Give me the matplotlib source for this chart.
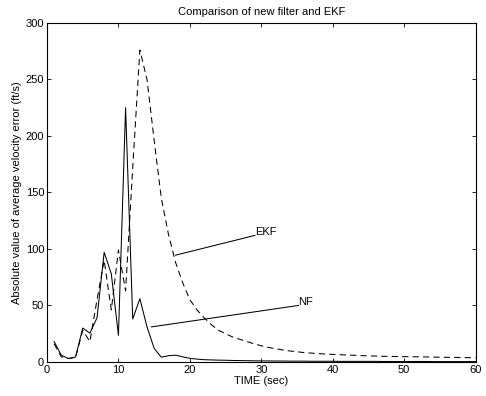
import matplotlib
matplotlib.use("Agg")
import matplotlib.pyplot as plt

plt.rcParams['font.family'] = ['Liberation Sans', 'DejaVu Sans']

# time axis (sec)
t = list(range(1, 61))

# new filter (NF) - solid
nf = [18, 6, 3, 4.4, 30, 25.5, 39, 97, 78, 23.6,
      225, 38, 56, 31, 12, 4.2, 5.5, 6, 4.5, 3.2,
      2.5, 2, 1.8, 1.6, 1.5, 1.3, 1.2, 1.1, 1.0, 0.9,
      0.9, 0.8, 0.8, 0.7, 0.7, 0.7, 0.6, 0.6, 0.6, 0.6,
      0.5, 0.5, 0.5, 0.5, 0.5, 0.5, 0.4, 0.4, 0.4, 0.4,
      0.4, 0.4, 0.4, 0.3, 0.3, 0.3, 0.3, 0.3, 0.3, 0.3]

# EKF - dashed
ekf = [16, 4.5, 3, 4, 28, 18, 55, 90, 46, 99,
       63, 172, 276, 250, 196, 145, 113, 88, 70, 55,
       46, 39, 33, 28, 25, 22, 20, 18, 16, 14.3,
       12.8, 11.7, 10.6, 9.7, 9, 8.3, 7.8, 7.4, 7, 6.7,
       6.4, 6.1, 5.9, 5.6, 5.4, 5.2, 5.0, 4.9, 4.8, 4.7,
       4.6, 4.5, 4.4, 4.3, 4.2, 4.1, 4.0, 3.9, 3.8, 3.7]

fs = 8

fig = plt.figure(figsize=(4.86, 3.96), dpi=100)
ax = fig.add_axes([0.0967, 0.086, 0.882, 0.856])

ax.plot(t, nf, color='black', linewidth=0.75, linestyle='-')
ax.plot(t, ekf, color='black', linewidth=0.75, linestyle=(0, (6, 4)))

ax.set_xlim(0, 60)
ax.set_ylim(0, 300)
ax.set_xticks(range(0, 61, 10))
ax.set_yticks(range(0, 301, 50))
ax.tick_params(direction='in', top=True, right=True, labelsize=fs,
               length=3, width=0.6, pad=2)
for s in ax.spines.values():
    s.set_linewidth(0.8)

ax.set_title('Comparison of new filter and EKF', fontsize=fs, pad=6)
ax.set_xlabel('TIME (sec)', fontsize=fs, labelpad=1)
ax.set_ylabel('Absolute value of average velocity error (ft/s)', fontsize=fs, labelpad=3)

# labels with leader lines
ax.plot([18.0, 29.1], [94.5, 112], color='black', linewidth=0.75)
ax.text(29.1, 111, 'EKF', fontsize=fs, ha='left', va='bottom')
ax.plot([14.6, 35.2], [31, 50], color='black', linewidth=0.75)
ax.text(35.2, 49, 'NF', fontsize=fs, ha='left', va='bottom')

fig.savefig('out.png', dpi=100)
